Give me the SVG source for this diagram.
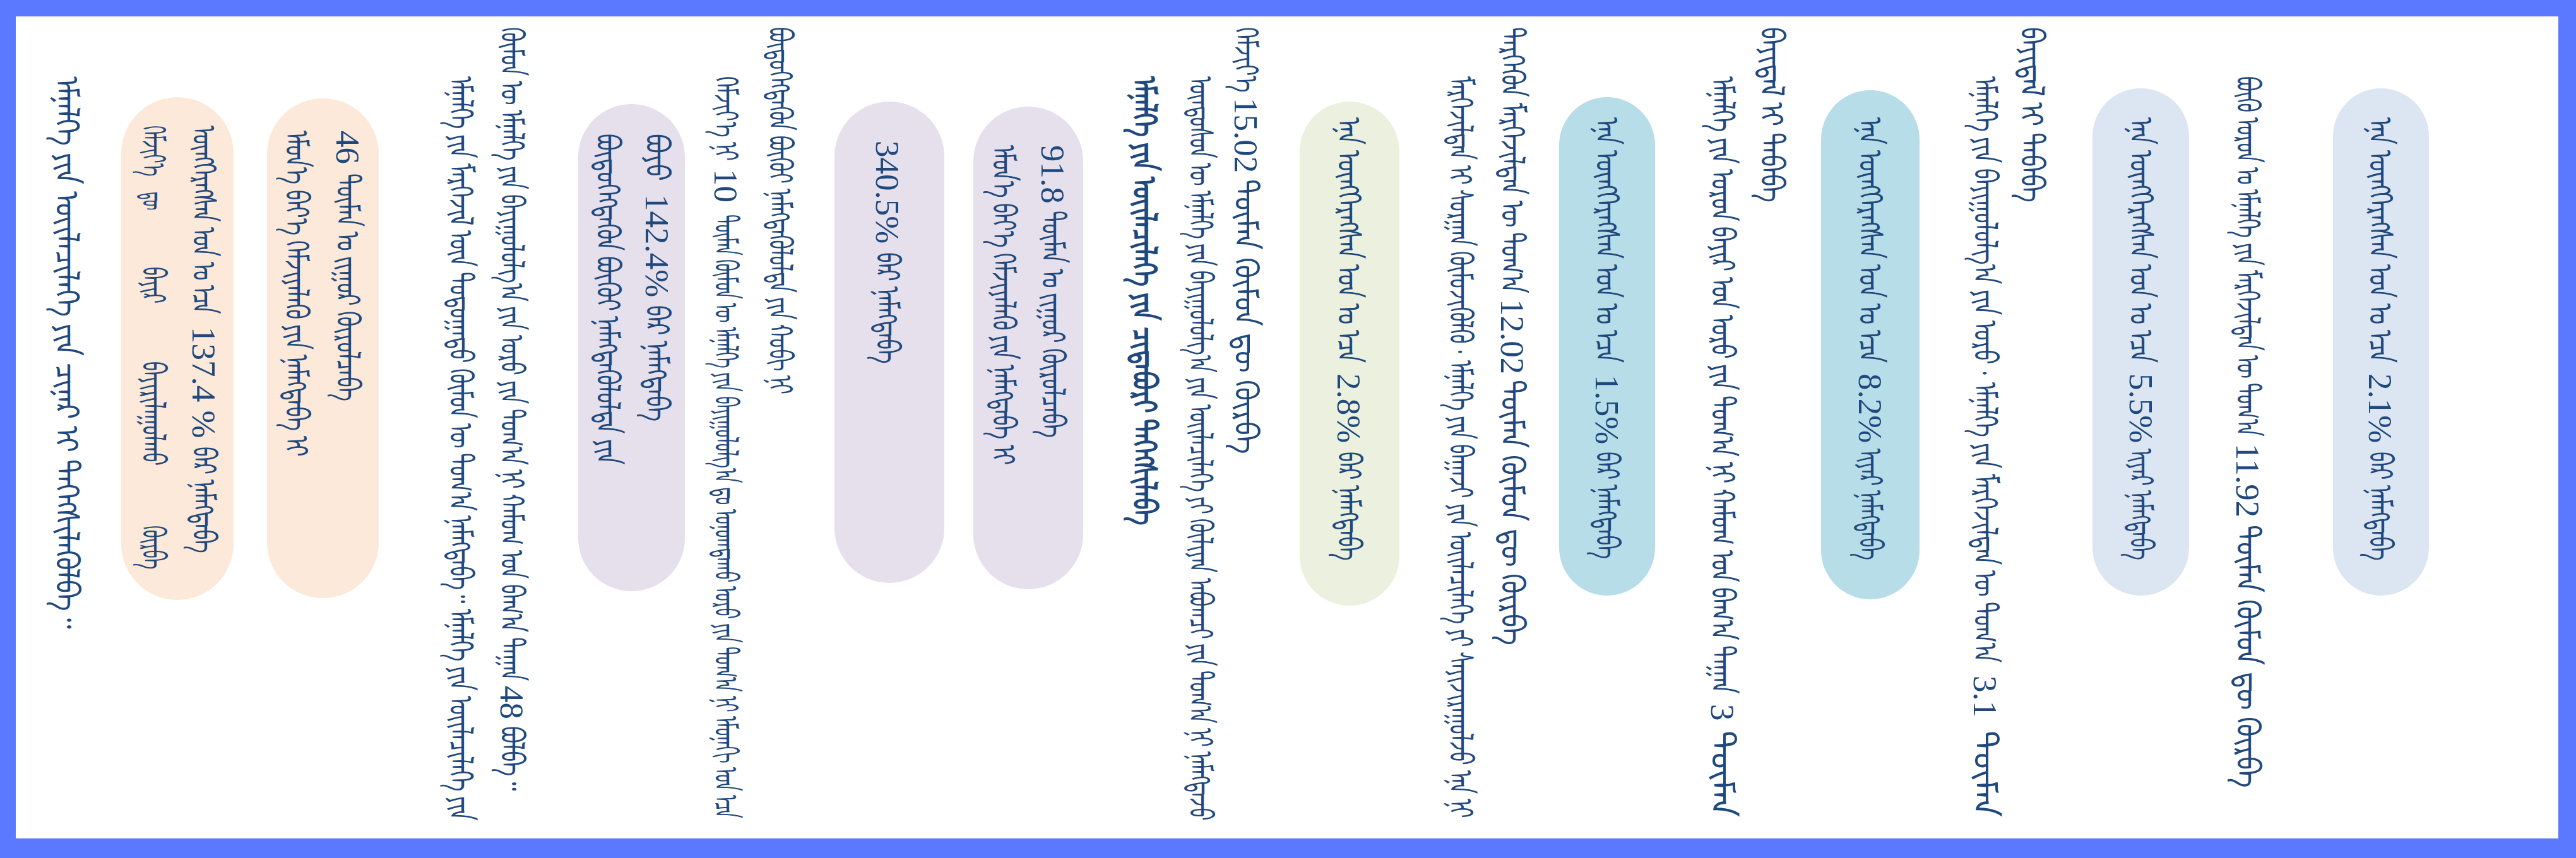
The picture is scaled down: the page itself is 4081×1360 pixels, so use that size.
<svg xmlns="http://www.w3.org/2000/svg" width="4081" height="1360" viewBox="0 0 4081 1360">
<style>
.t{font-family:'Liberation Serif','DejaVu Serif',serif;font-size:53px;fill:#1f497d;dominant-baseline:central}
.b{font-weight:bold}
.c1{fill:#dce6f2}.c2{fill:#b7dde8}.c3{fill:#ebf1de}.c4{fill:#e5e0ec}.c5{fill:#fde9d9}
</style>
<g id="frame">
<rect x="0" y="0" width="4081" height="1360" fill="#5a79ff"/>
<rect x="25" y="26" width="4028" height="1303" fill="#ffffff"/>
</g>
<g id="bubble-1">
<rect class="c1" x="3696" y="140" width="152" height="804" rx="76"/>
<g transform="translate(3771 0) rotate(90)"><text class="t" x="186" textLength="389" lengthAdjust="spacingAndGlyphs">ᠡᠨᠡ ᠥᠩᠭᠡᠷᠡᠭᠰᠡᠨ ᠣᠨ ᠤ ᠡᠴᠡ</text><text class="t" x="592">2.1%</text><text class="t" x="716" textLength="173" lengthAdjust="spacingAndGlyphs">ᠪᠡᠷ ᠨᠡᠮᠡᠭᠳᠡᠪᠡ</text></g>
</g>
<g id="para-1">
<g transform="translate(3561 0) rotate(90)"><text class="t" x="121" textLength="570" lengthAdjust="spacingAndGlyphs">ᠪᠦᠬᠦ ᠣᠷᠣᠨ ᠤ ᠡᠮᠨᠡᠯᠭᠡ ᠶᠢᠨ ᠮᠡᠷᠭᠡᠵᠢᠯᠲᠡᠨ ᠦ ᠲᠣᠭ᠎ᠠ</text><text class="t" x="703">11.92</text><text class="t" x="832" textLength="417" lengthAdjust="spacingAndGlyphs">ᠲᠦᠮᠡᠨ ᠬᠦᠮᠦᠨ ᠳᠦ ᠬᠦᠷᠪᠡ</text></g>
<g transform="translate(3219 0) rotate(90)"><text class="t" x="43" textLength="278" lengthAdjust="spacingAndGlyphs">ᠪᠠᠶᠢᠳᠠᠯ ᠢ ᠳᠠᠪᠠᠪᠠ</text></g>
</g>
<g id="bubble-2">
<rect class="c1" x="3315" y="140" width="153" height="804" rx="76"/>
<g transform="translate(3392 0) rotate(90)"><text class="t" x="186" textLength="389" lengthAdjust="spacingAndGlyphs">ᠡᠨᠡ ᠥᠩᠭᠡᠷᠡᠭᠰᠡᠨ ᠣᠨ ᠤ ᠡᠴᠡ</text><text class="t" x="592">5.5%</text><text class="t" x="711" textLength="177" lengthAdjust="spacingAndGlyphs">ᠢᠶᠠᠷ ᠨᠡᠮᠡᠭᠳᠡᠪᠡ</text></g>
</g>
<g id="para-2">
<g transform="translate(3145 0) rotate(90)"><text class="t" x="121" textLength="929" lengthAdjust="spacingAndGlyphs">ᠡᠮᠨᠡᠯᠭᠡ ᠶᠢᠨ ᠪᠠᠶᠢᠭᠤᠯᠤᠯᠭ᠎ᠠ ᠶᠢᠨ ᠣᠷᠣ · ᠡᠮᠨᠡᠯᠭᠡ ᠶᠢᠨ ᠮᠡᠷᠭᠡᠵᠢᠯᠲᠡᠨ ᠦ ᠲᠣᠭ᠎ᠠ</text><text class="t" x="1071">3.1</text><text class="t" x="1158" textLength="138" lengthAdjust="spacingAndGlyphs">ᠲᠦᠮᠡᠨ</text></g>
<g transform="translate(2807 0) rotate(90)"><text class="t" x="43" textLength="278" lengthAdjust="spacingAndGlyphs">ᠪᠠᠶᠢᠳᠠᠯ ᠢ ᠳᠠᠪᠠᠪᠠ</text></g>
</g>
<g id="bubble-3">
<rect class="c2" x="2885" y="143" width="156" height="807" rx="78"/>
<g transform="translate(2963 0) rotate(90)"><text class="t" x="186" textLength="389" lengthAdjust="spacingAndGlyphs">ᠡᠨᠡ ᠥᠩᠭᠡᠷᠡᠭᠰᠡᠨ ᠣᠨ ᠤ ᠡᠴᠡ</text><text class="t" x="592">8.2%</text><text class="t" x="711" textLength="177" lengthAdjust="spacingAndGlyphs">ᠢᠶᠠᠷ ᠨᠡᠮᠡᠭᠳᠡᠪᠡ</text></g>
</g>
<g id="para-3">
<g transform="translate(2729 0) rotate(90)"><text class="t" x="121" textLength="979" lengthAdjust="spacingAndGlyphs">ᠡᠮᠨᠡᠯᠭᠡ ᠶᠢᠨ ᠣᠷᠣᠨ ᠪᠠᠶᠢᠷ ᠤᠨ ᠣᠷᠣ ᠶᠢᠨ ᠲᠣᠭ᠎ᠠ ᠨᠢ ᠬᠠᠮᠤᠭ ᠤᠨ ᠪᠠᠭ᠎ᠠ ᠳᠠᠭᠠᠨ</text><text class="t" x="1116">3</text><text class="t" x="1158" textLength="138" lengthAdjust="spacingAndGlyphs">ᠲᠦᠮᠡᠨ</text></g>
<g transform="translate(2396 0) rotate(90)"><text class="t" x="43" textLength="422" lengthAdjust="spacingAndGlyphs">ᠲᠡᠷᠭᠡᠭᠦᠨ ᠮᠡᠷᠭᠡᠵᠢᠯᠲᠡᠨ ᠦ ᠲᠣᠭ᠎ᠠ</text><text class="t" x="474">12.02</text><text class="t" x="602" textLength="421" lengthAdjust="spacingAndGlyphs">ᠲᠦᠮᠡᠨ ᠬᠦᠮᠦᠨ ᠳᠦ ᠬᠦᠷᠪᠡ</text></g>
</g>
<g id="bubble-4">
<rect class="c2" x="2470" y="154" width="152" height="790" rx="76"/>
<g transform="translate(2546 0) rotate(90)"><text class="t" x="186" textLength="389" lengthAdjust="spacingAndGlyphs">ᠡᠨᠡ ᠥᠩᠭᠡᠷᠡᠭᠰᠡᠨ ᠣᠨ ᠤ ᠡᠴᠡ</text><text class="t" x="594">1.5%</text><text class="t" x="716" textLength="170" lengthAdjust="spacingAndGlyphs">ᠪᠡᠷ ᠨᠡᠮᠡᠭᠳᠡᠪᠡ</text></g>
</g>
<g id="para-4">
<g transform="translate(2314 0) rotate(90)"><text class="t" x="121" textLength="1176" lengthAdjust="spacingAndGlyphs">ᠮᠡᠷᠭᠡᠵᠢᠯᠲᠡᠨ ᠢ ᠰᠤᠷᠭᠠᠨ ᠬᠦᠮᠦᠵᠢᠭᠦᠯᠬᠦ · ᠡᠮᠨᠡᠯᠭᠡ ᠶᠢᠨ ᠪᠠᠭᠠᠵᠢ ᠶᠢᠨ ᠦᠢᠯᠡᠴᠢᠯᠡᠭᠡ ᠶᠢ ᠰᠠᠶᠢᠵᠢᠷᠠᠭᠤᠯᠵᠤ ᠡᠨᠡ ᠨᠢ</text></g>
<g transform="translate(1974 0) rotate(90)"><text class="t" x="43" textLength="104" lengthAdjust="spacingAndGlyphs">ᠬᠡᠮᠵᠢᠶ᠎ᠡ</text><text class="t" x="155">15.02</text><text class="t" x="284" textLength="436" lengthAdjust="spacingAndGlyphs">ᠲᠦᠮᠡᠨ ᠬᠦᠮᠦᠨ ᠳᠦ ᠬᠦᠷᠪᠡ</text></g>
</g>
<g id="bubble-5">
<rect class="c3" x="2059" y="161" width="158" height="799" rx="79"/>
<g transform="translate(2137 0) rotate(90)"><text class="t" x="186" textLength="389" lengthAdjust="spacingAndGlyphs">ᠡᠨᠡ ᠥᠩᠭᠡᠷᠡᠭᠰᠡᠨ ᠣᠨ ᠤ ᠡᠴᠡ</text><text class="t" x="592">2.8%</text><text class="t" x="716" textLength="173" lengthAdjust="spacingAndGlyphs">ᠪᠡᠷ ᠨᠡᠮᠡᠭᠳᠡᠪᠡ</text></g>
</g>
<g id="para-5">
<g transform="translate(1902 0) rotate(90)"><text class="t" x="121" textLength="1180" lengthAdjust="spacingAndGlyphs">ᠦᠨᠳᠦᠰᠦᠨ ᠦ ᠡᠮᠨᠡᠯᠭᠡ ᠶᠢᠨ ᠪᠠᠶᠢᠭᠤᠯᠤᠯᠭ᠎ᠠ ᠶᠢᠨ ᠦᠢᠯᠡᠴᠢᠯᠡᠭᠡ ᠶᠢ ᠬᠦᠯᠢᠶᠡᠨ ᠠᠪᠤᠭᠴᠢ ᠶᠢᠨ ᠲᠣᠭ᠎ᠠ ᠨᠢ ᠨᠡᠮᠡᠭᠳᠡᠵᠦ</text></g>
<g transform="translate(1813 0) rotate(90)"><text class="t b" x="121" textLength="712" lengthAdjust="spacingAndGlyphs">ᠡᠮᠨᠡᠯᠭᠡ ᠶᠢᠨ ᠦᠢᠯᠡᠴᠢᠯᠡᠭᠡ ᠶᠢᠨ ᠴᠢᠳᠠᠪᠤᠷᠢ ᠳᠡᠭᠡᠭᠰᠢᠯᠡᠪᠡ</text></g>
</g>
<g id="bubble-6">
<rect class="c4" x="1542" y="169" width="174" height="765" rx="87"/>
<g transform="translate(1668 0) rotate(90)"><text class="t" x="230">91.8</text><text class="t" x="334" textLength="360" lengthAdjust="spacingAndGlyphs">ᠲᠦᠮᠡᠨ ᠤ ᠵᠢᠭᠤᠷ ᠬᠦᠷᠦᠯᠴᠡᠪᠡ</text></g>
<g transform="translate(1590 0) rotate(90)"><text class="t" x="230" textLength="507" lengthAdjust="spacingAndGlyphs">ᠡᠮᠦᠨ᠎ᠡ ᠪᠡᠶ᠎ᠡ ᠬᠡᠮᠵᠢᠶᠡᠯᠡᠬᠦ ᠶᠢᠨ ᠨᠡᠮᠡᠭᠳᠡᠪᠡ ᠢ</text></g>
</g>
<g id="bubble-7">
<rect class="c4" x="1322" y="161" width="174" height="763" rx="87"/>
<g transform="translate(1406 0) rotate(90)"><text class="t" x="223">340.5%</text><text class="t" x="400" textLength="177" lengthAdjust="spacingAndGlyphs">ᠪᠡᠷ ᠨᠡᠮᠡᠭᠳᠡᠪᠡ</text></g>
</g>
<g id="para-6">
<g transform="translate(1236 0) rotate(90)"><text class="t" x="43" textLength="582" lengthAdjust="spacingAndGlyphs">ᠪᠦᠲᠦᠭᠡᠭᠳᠡᠬᠦᠨ ᠪᠦᠬᠦᠢ ᠨᠡᠮᠡᠭᠳᠡᠭᠦᠯᠦᠯᠲᠡ ᠶᠢᠨ ᠬᠤᠪᠢ ᠨᠢ</text></g>
<g transform="translate(1150 0) rotate(90)"><text class="t" x="121" textLength="134" lengthAdjust="spacingAndGlyphs">ᠬᠡᠮᠵᠢᠶ᠎ᠡ ᠨᠢ</text><text class="t" x="268">10</text><text class="t" x="340" textLength="957" lengthAdjust="spacingAndGlyphs">ᠲᠦᠮᠡᠨ ᠬᠦᠮᠦᠨ ᠦ ᠡᠮᠨᠡᠯᠭᠡ ᠶᠢᠨ ᠪᠠᠶᠢᠭᠤᠯᠤᠯᠭ᠎ᠠ ᠳᠤ ᠣᠨᠣᠭᠳᠠᠬᠤ ᠣᠷᠣ ᠶᠢᠨ ᠲᠣᠭ᠎ᠠ ᠨᠢ ᠡᠮᠦᠨᠡᠬᠢ ᠣᠨ ᠡᠴᠡ</text></g>
</g>
<g id="bubble-8">
<rect class="c4" x="916" y="165" width="169" height="772" rx="84"/>
<g transform="translate(1041 0) rotate(90)"><text class="t" x="212" textLength="75" lengthAdjust="spacingAndGlyphs">ᠪᠤᠶᠤ</text><text class="t" x="308">142.4%</text><text class="t" x="484" textLength="184" lengthAdjust="spacingAndGlyphs">ᠪᠡᠷ ᠨᠡᠮᠡᠭᠳᠡᠪᠡ</text></g>
<g transform="translate(963 0) rotate(90)"><text class="t" x="212" textLength="525" lengthAdjust="spacingAndGlyphs">ᠪᠦᠲᠦᠭᠡᠭᠳᠡᠬᠦᠨ ᠪᠦᠬᠦᠢ ᠨᠡᠮᠡᠭᠳᠡᠭᠦᠯᠦᠯᠲᠡ ᠶᠢᠨ</text></g>
</g>
<g id="para-7">
<g transform="translate(811 0) rotate(90)"><text class="t" x="43" textLength="1037" lengthAdjust="spacingAndGlyphs">ᠬᠦᠮᠦᠨ ᠦ ᠡᠮᠨᠡᠯᠭᠡ ᠶᠢᠨ ᠪᠠᠶᠢᠭᠤᠯᠤᠯᠭ᠎ᠠ ᠶᠢᠨ ᠣᠷᠣ ᠶᠢᠨ ᠲᠣᠭ᠎ᠠ ᠨᠢ ᠬᠠᠮᠤᠭ ᠤᠨ ᠪᠠᠭ᠎ᠠ ᠳᠠᠭᠠᠨ</text><text class="t" x="1087">48</text><text class="t" x="1151" textLength="102" lengthAdjust="spacingAndGlyphs">ᠪᠣᠯᠪᠠ᠃</text></g>
<g transform="translate(730 0) rotate(90)"><text class="t" x="121" textLength="1180" lengthAdjust="spacingAndGlyphs">ᠡᠮᠨᠡᠯᠭᠡ ᠶᠢᠨ ᠮᠡᠷᠭᠡᠵᠢᠯ ᠦᠨ ᠳᠣᠲᠣᠭᠠᠳᠤ ᠬᠦᠮᠦᠨ ᠦ ᠲᠣᠭ᠎ᠠ ᠨᠡᠮᠡᠭᠳᠡᠪᠡ᠃ ᠡᠮᠨᠡᠯᠭᠡ ᠶᠢᠨ ᠦᠢᠯᠡᠴᠢᠯᠡᠭᠡ ᠶᠢᠨ</text></g>
</g>
<g id="bubble-9">
<rect class="c5" x="423" y="156" width="177" height="792" rx="88"/>
<g transform="translate(551 0) rotate(90)"><text class="t" x="207">46</text><text class="t" x="275" textLength="361" lengthAdjust="spacingAndGlyphs">ᠲᠦᠮᠡᠨ ᠤ ᠵᠢᠭᠤᠷ ᠬᠦᠷᠦᠯᠴᠡᠪᠡ</text></g>
<g transform="translate(470 0) rotate(90)"><text class="t" x="207" textLength="517" lengthAdjust="spacingAndGlyphs">ᠡᠮᠦᠨ᠎ᠡ ᠪᠡᠶ᠎ᠡ ᠬᠡᠮᠵᠢᠶᠡᠯᠡᠬᠦ ᠶᠢᠨ ᠨᠡᠮᠡᠭᠳᠡᠪᠡ ᠢ</text></g>
</g>
<g id="bubble-10">
<rect class="c5" x="192" y="154" width="178" height="797" rx="89"/>
<g transform="translate(323 0) rotate(90)"><text class="t" x="199" textLength="299" lengthAdjust="spacingAndGlyphs">ᠥᠩᠭᠡᠷᠡᠭᠰᠡᠨ ᠣᠨ ᠤ ᠡᠴᠡ</text><text class="t" x="518">137.4 %</text><text class="t" x="708" textLength="169" lengthAdjust="spacingAndGlyphs">ᠪᠡᠷ ᠨᠡᠮᠡᠭᠳᠡᠪᠡ</text></g>
<g transform="translate(243 0) rotate(90)"><text class="t" x="199" textLength="81" lengthAdjust="spacingAndGlyphs">ᠬᠡᠮᠵᠢᠶ᠎ᠡ</text><text class="t" x="304" textLength="29" lengthAdjust="spacingAndGlyphs">ᠳᠦ</text><text class="t" x="423" textLength="58" lengthAdjust="spacingAndGlyphs">ᠪᠠᠶᠢᠷ</text><text class="t" x="573" textLength="165" lengthAdjust="spacingAndGlyphs">ᠪᠠᠶᠢᠷᠢᠯᠠᠭᠤᠯᠬᠤ</text><text class="t" x="833" textLength="70" lengthAdjust="spacingAndGlyphs">ᠬᠦᠷᠪᠡ</text></g>
</g>
<g id="para-8">
<g transform="translate(106 0) rotate(90)"><text class="t" x="121" textLength="876" lengthAdjust="spacingAndGlyphs">ᠡᠮᠨᠡᠯᠭᠡ ᠶᠢᠨ ᠦᠢᠯᠡᠴᠢᠯᠡᠭᠡ ᠶᠢᠨ ᠴᠢᠨᠠᠷ ᠢ ᠳᠡᠭᠡᠭᠰᠢᠯᠡᠭᠦᠯᠪᠡ᠃</text></g>
</g>
</svg>
